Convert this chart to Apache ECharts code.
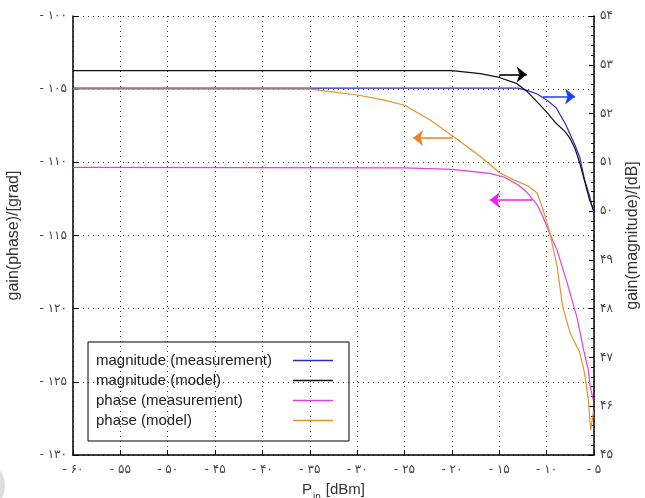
<!DOCTYPE html>
<html>
<head>
<meta charset="utf-8">
<script src="https://cdn.jsdelivr.net/npm/echarts@6/dist/echarts.min.js"></script>
<style>
  html, body { margin: 0; padding: 0; background: #fff; }
  #main { width: 645px; height: 498px; }
</style>
</head>
<body>
<div id="main"></div>
<script>
// 数据
var magMeasX  = [-60, -13, -12, -11, -10, -9, -8, -7, -6.5, -6, -5.5, -5];
var magMeasY  = [52.52, 52.52, 52.47, 52.40, 52.28, 52.12, 51.78, 51.35, 51.10, 50.65, 50.33, 49.95];
var magModelX = [-60, -20, -17, -15, -13.2, -12, -11, -10, -9, -8, -7.5, -7, -6.5, -6, -5.5, -5];
var magModelY = [52.88, 52.88, 52.82, 52.74, 52.62, 52.44, 52.24, 52.03, 51.80, 51.62, 51.48, 51.28, 50.98, 50.62, 50.25, 50.0];
var phMeasX   = [-60, -25, -20, -16, -14.5, -13, -12, -11, -10.4, -9.85, -8.9, -7.85, -6.8, -6.1, -5.6, -5.4, -5.1];
var phMeasY   = [-110.35, -110.38, -110.48, -110.75, -111.0, -111.55, -112.1, -112.9, -113.7, -114.6, -116.0, -118.2, -120.6, -122.8, -124.2, -125.3, -126.2];
var phModelX  = [-60, -35, -33, -30, -27.5, -25, -22.3, -19.7, -17, -15, -13.5, -12, -11, -10.4, -9.7, -8.9, -8.3, -7.5, -6.5, -6, -5.6, -5.35, -5.05];
var phModelY  = [-105.0, -105.0, -105.15, -105.4, -105.7, -106.1, -107.1, -108.3, -109.6, -110.7, -111.2, -111.6, -112.1, -113.2, -114.7, -117.1, -119.9, -121.7, -123.0, -124.4, -126.2, -128.3, -127.0];

var seriesNames = ['magnitude (measurement)', 'magnitude (model)', 'phase (measurement)', 'phase (model)'];
var seriesColors = ['#2a2ac4', '#111111', '#e040e0', '#e0962a'];
var arrowColors = ['#1f3ff0', '#000000', '#f020f0', '#f08020'];

// arrows: [fromX, toX, y]
var arrows = [
    [-10.4, -7.0, 52.35],
    [-15.0, -12.1, 52.8],
    [-11.5, -16.0, -112.57],
    [-19.9, -24.1, -108.34]
];

var xMin = -60, xMax = -5, xStep = 5;
var phMin = -130, phMax = -100, phStep = 5;
var magMin = 45, magMax = 54, magStep = 1;

var faDigits = '۰۱۲۳۴۵۶۷۸۹';
function toFa(v) {
    var s = String(Math.abs(v)).replace(/\d/g, function (d) { return faDigits[d]; });
    return (v < 0 ? '- ' : '') + s;
}
function zip(xs, ys) {
    return xs.map(function (x, i) { return [x, ys[i]]; });
}

var labelFont = "'DejaVu Sans', 'Noto Sans', sans-serif";
var textFont = "'Liberation Sans', Arial, sans-serif";

var chart = echarts.init(document.getElementById('main'), null, {renderer: 'canvas'});

var dataSets = [zip(magMeasX, magMeasY), zip(magModelX, magModelY), zip(phMeasX, phMeasY), zip(phModelX, phModelY)];
var yIdx = [1, 1, 0, 0];

var series = dataSets.map(function (d, i) {
    var a = arrows[i];
    return {
        name: seriesNames[i],
        type: 'line',
        yAxisIndex: yIdx[i],
        data: d,
        symbol: 'none',
        showSymbol: false,
        smooth: false,
        animation: false,
        lineStyle: {color: seriesColors[i], width: 1.2},
        itemStyle: {color: seriesColors[i]},
        markLine: {
            silent: true,
            animation: false,
            symbol: ['none', 'arrow'],
            symbolSize: [12, 10],
            label: {show: false},
            lineStyle: {color: arrowColors[i], width: 1.6, type: 'solid'},
            data: [[{coord: [a[0], a[2]]}, {coord: [a[1], a[2]]}]]
        }
    };
});

var axisLabelStyle = {fontFamily: labelFont, fontSize: 12, color: '#444', formatter: toFa};

var option = {
    backgroundColor: '#fff',
    animation: false,
    grid: {left: 73, right: 51, top: 16, bottom: 43, outerBoundsMode: 'none', containLabel: false},
    legend: {
        orient: 'vertical',
        left: 88,
        top: 342,
        align: 'right',
        icon: 'rect',
        padding: [11, 16, 13, 8],
        itemGap: 5,
        itemWidth: 40,
        itemHeight: 1.5,
        borderColor: '#000',
        borderWidth: 1,
        formatter: '{t|{name}}',
        textStyle: {
            rich: {
                t: {fontFamily: textFont, fontSize: 15, color: '#222', width: 192, align: 'left', lineHeight: 16}
            }
        },
        data: seriesNames
    },
    xAxis: {
        type: 'value',
        min: xMin, max: xMax, interval: xStep,
        name: '{a|P}{b|in}{a|[dBm]}',
        nameLocation: 'middle',
        nameGap: 19,
        nameTextStyle: {
            rich: {
                a: {fontFamily: textFont, fontSize: 15, color: '#333', lineHeight: 18, verticalAlign: 'top'},
                b: {fontFamily: textFont, fontSize: 10, color: '#333', lineHeight: 12, padding: [11, 5, 0, 1]}
            }
        },
        axisLine: {show: true, onZero: false, lineStyle: {color: '#000', width: 1.5}},
        axisTick: {show: true, inside: true, length: 5, lineStyle: {color: '#000'}},
        axisLabel: Object.assign({margin: 9}, axisLabelStyle),
        splitLine: {show: true, lineStyle: {color: '#333', width: 1, type: [1, 4]}}
    },
    yAxis: [{
        type: 'value',
        position: 'left',
        min: phMin, max: phMax, interval: phStep,
        name: 'gain(phase)/[grad]',
        nameLocation: 'middle',
        nameRotate: 90,
        nameGap: 51,
        nameTextStyle: {fontFamily: textFont, fontSize: 16, color: '#333'},
        axisLine: {show: true, onZero: false, lineStyle: {color: '#000', width: 1.5}},
        axisTick: {show: true, inside: true, length: 5, lineStyle: {color: '#000'}},
        axisLabel: Object.assign({margin: 6}, axisLabelStyle),
        splitLine: {show: true, lineStyle: {color: '#333', width: 1, type: [1, 4]}}
    }, {
        type: 'value',
        position: 'right',
        min: magMin, max: magMax, interval: magStep,
        name: 'gain(magnitude)/[dB]',
        nameLocation: 'middle',
        nameRotate: 90,
        nameGap: 31,
        nameTextStyle: {fontFamily: textFont, fontSize: 16, color: '#333'},
        axisLine: {show: true, onZero: false, lineStyle: {color: '#000', width: 1.5}},
        axisTick: {show: true, inside: true, length: 5, lineStyle: {color: '#000'}},
        minorTick: {show: true, splitNumber: 5, length: 3, lineStyle: {color: '#000'}},
        axisLabel: Object.assign({margin: 6}, axisLabelStyle),
        splitLine: {show: false}
    }],
    graphic: [{
        type: 'circle',
        silent: true,
        z: -1,
        shape: {cx: -22, cy: 486, r: 27},
        style: {fill: '#dedede'}
    }],
    series: series
};

chart.setOption(option);
</script>
</body>
</html>
